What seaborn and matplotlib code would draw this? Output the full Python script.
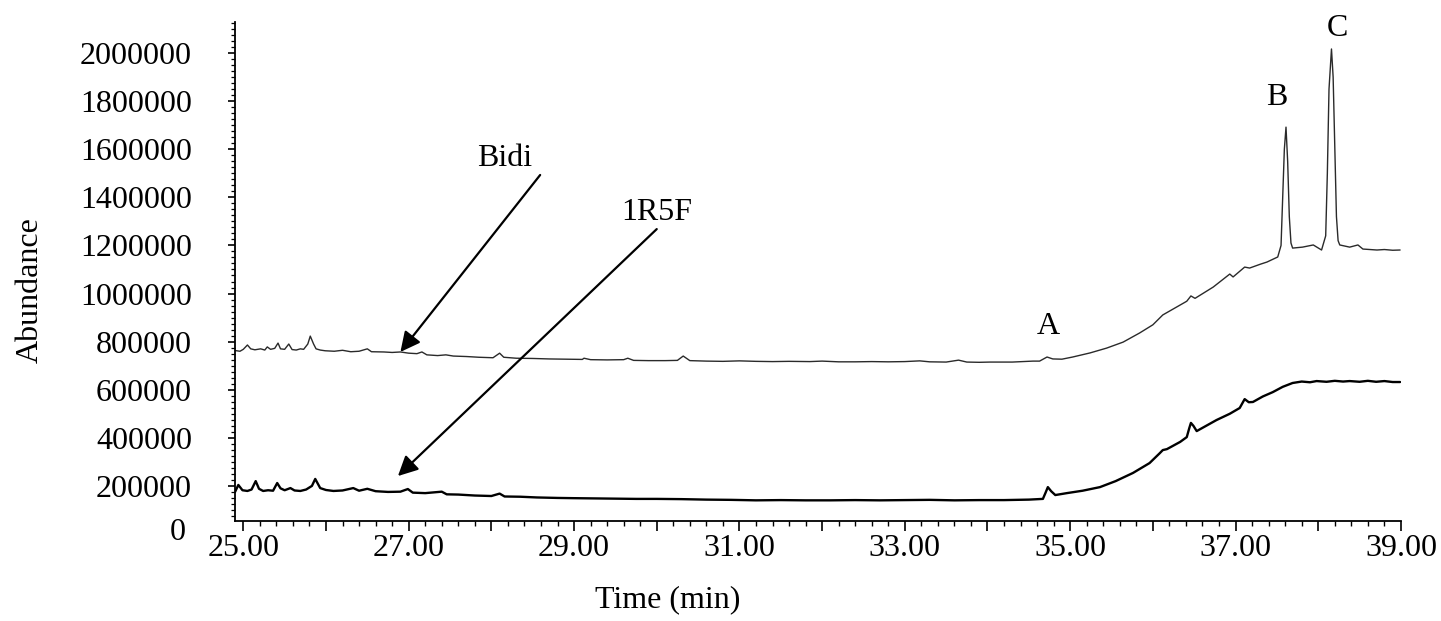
import matplotlib
matplotlib.use("Agg")
import matplotlib.pyplot as plt
from matplotlib.ticker import MultipleLocator, FixedLocator, FuncFormatter
import numpy as np
import pandas as pd
import seaborn as sns

# ---- chromatogram data (retention time in min, abundance in thousands of counts) ----
bidi_time = [
    24.90, 24.96, 25.00, 25.05, 25.09, 25.14, 25.21, 25.26, 25.29, 25.33,
    25.38, 25.42, 25.45, 25.50, 25.55, 25.59, 25.64, 25.69, 25.73, 25.78,
    25.81, 25.85, 25.88, 25.93, 25.99, 26.10, 26.20, 26.30, 26.40, 26.50,
    26.55, 26.70, 26.80, 26.90, 27.00, 27.10, 27.16, 27.22, 27.35, 27.45,
    27.54, 27.70, 27.85, 28.02, 28.10, 28.15, 28.30, 28.50, 28.70, 28.90,
    29.10, 29.12, 29.20, 29.40, 29.60, 29.65, 29.72, 29.90, 30.10, 30.25,
    30.32, 30.40, 30.60, 30.80, 31.00, 31.20, 31.40, 31.60, 31.85, 32.00,
    32.20, 32.40, 32.60, 32.80, 33.00, 33.18, 33.30, 33.50, 33.65, 33.75,
    33.90, 34.03, 34.30, 34.55, 34.63, 34.72, 34.79, 34.90, 35.03, 35.24,
    35.44, 35.64, 35.84, 36.00, 36.12, 36.33, 36.41, 36.46, 36.51, 36.73,
    36.93, 36.97, 37.11, 37.17, 37.30, 37.38, 37.51, 37.55, 37.57, 37.59,
    37.61, 37.63, 37.65, 37.67, 37.69, 37.81, 37.94, 38.04, 38.09, 38.11,
    38.13, 38.16, 38.18, 38.20, 38.22, 38.24, 38.26, 38.38, 38.48, 38.54,
    38.62, 38.71, 38.80, 38.90, 38.99,
]
bidi_abund = [
    763, 760, 768, 786, 770, 766, 770, 765, 778, 768,
    772, 794, 770, 768, 790, 767, 765, 770, 768, 790,
    823, 790, 770, 765, 762, 760, 764, 758, 760, 770,
    758, 757, 755, 757, 752, 750, 757, 745, 742, 745,
    740, 738, 735, 733, 752, 735, 731, 730, 728, 727,
    726, 731, 725, 724, 725, 731, 722, 721, 721, 722,
    740, 721, 719, 718, 720, 718, 717, 718, 717, 719,
    716, 716, 717, 716, 717, 720, 716, 715, 723, 715,
    714, 715, 715, 719, 719, 736, 728, 727, 736, 753,
    773, 798, 836, 870, 911, 952, 968, 990, 980, 1027,
    1081, 1069, 1110, 1106, 1122, 1131, 1152, 1200, 1400, 1600,
    1692, 1550, 1320, 1210, 1189, 1193, 1202, 1181, 1240, 1500,
    1850, 2017, 1900, 1600, 1320, 1220, 1202, 1193, 1202, 1185,
    1183, 1181, 1183, 1180, 1181,
]

r5f_time = [
    24.90, 24.94, 24.99, 25.05, 25.10, 25.15, 25.19, 25.24, 25.30, 25.36,
    25.41, 25.45, 25.50, 25.57, 25.62, 25.69, 25.76, 25.83, 25.87, 25.93,
    26.00, 26.09, 26.20, 26.33, 26.40, 26.50, 26.60, 26.75, 26.90, 26.99,
    27.05, 27.20, 27.40, 27.46, 27.60, 27.80, 28.00, 28.10, 28.16, 28.35,
    28.55, 28.80, 29.00, 29.25, 29.50, 29.75, 30.00, 30.30, 30.60, 30.90,
    31.20, 31.50, 31.80, 32.10, 32.40, 32.70, 33.00, 33.30, 33.60, 33.90,
    34.20, 34.50, 34.67, 34.70, 34.73, 34.77, 34.82, 34.96, 35.15, 35.36,
    35.55, 35.76, 35.96, 36.08, 36.12, 36.17, 36.33, 36.41, 36.44, 36.46,
    36.49, 36.53, 36.77, 36.93, 37.05, 37.11, 37.16, 37.21, 37.33, 37.45,
    37.57, 37.69, 37.80, 37.90, 37.98, 38.10, 38.20, 38.30, 38.38, 38.50,
    38.60, 38.70, 38.80, 38.90, 38.99,
]
r5f_abund = [
    175, 204, 182, 179, 185, 220, 188, 179, 182, 180,
    212, 190, 182, 191, 181, 179, 185, 200, 229, 191,
    183, 179, 181, 191, 180, 188, 178, 175, 176, 187,
    172, 170, 176, 165, 164, 160, 158, 168, 156, 155,
    152, 150, 149, 148, 147, 146, 146, 145, 143, 142,
    140, 141, 140, 140, 141, 140, 141, 142, 140, 141,
    141, 143, 146, 170, 195, 178, 162, 170, 180, 195,
    220, 254, 295, 335, 349, 353, 383, 403, 440, 462,
    450, 428, 474, 500, 524, 561, 548, 549, 572, 590,
    612, 628, 634, 631, 636, 633, 637, 634, 636, 633,
    637, 633, 636, 632, 632,
]

y_tick_values = [200000, 400000, 600000, 800000, 1000000,
                 1200000, 1400000, 1600000, 1800000, 2000000]
x_label_minutes = [25, 27, 29, 31, 33, 35, 37, 39]

bidi = pd.DataFrame({"time": bidi_time, "abundance": np.array(bidi_abund) * 1000})
r5f = pd.DataFrame({"time": r5f_time, "abundance": np.array(r5f_abund) * 1000})

sns.set_style("ticks")
plt.rcParams["font.family"] = ["Liberation Serif", "DejaVu Serif"]
plt.rcParams["axes.linewidth"] = 1.3
plt.rcParams["text.color"] = "black"
plt.rcParams["axes.edgecolor"] = "black"

fig = plt.figure(figsize=(14.41, 6.21), dpi=100)
ax = fig.add_axes([0.1631, 0.1610, 0.8091, 0.8035])

sns.lineplot(data=bidi, x="time", y="abundance", ax=ax, color="#2a2a2a",
             linewidth=1.0, estimator=None)
sns.lineplot(data=r5f, x="time", y="abundance", ax=ax, color="black",
             linewidth=1.7, estimator=None)

ax.set_xlim(24.9, 39.0)
ax.set_ylim(54000, 2129000)
sns.despine(ax=ax)
ax.set_xlabel("")
ax.set_ylabel("")

# x axis: labelled ticks every 2 min, plain ticks every minute, fine ticks every 0.2 min
ax.xaxis.set_major_locator(MultipleLocator(1))
ax.xaxis.set_minor_locator(MultipleLocator(0.2))
ax.xaxis.set_major_formatter(FuncFormatter(
    lambda v, _: f"{v:.2f}" if int(round(v)) in x_label_minutes else ""))
ax.tick_params(axis="x", which="major", length=7, width=1.2, pad=2,
               labelsize=23, colors="black")
ax.tick_params(axis="x", which="minor", length=3.5, width=1.0, colors="black")

# y axis
ax.yaxis.set_major_locator(FixedLocator(y_tick_values))
ax.yaxis.set_minor_locator(MultipleLocator(25000))
ax.yaxis.set_major_formatter(FuncFormatter(lambda v, _: f"{int(v)}"))
ax.tick_params(axis="y", which="major", length=5, width=1.2, pad=26,
               labelsize=23, colors="black")
ax.tick_params(axis="y", which="minor", length=3, width=0.9, colors="black")

fig.text(178 / 1441, 1 - 532 / 621, "0", fontsize=23, ha="center", va="center")
fig.text(30 / 1441, 1 - 290 / 621, "Abundance", fontsize=23, rotation=90,
         ha="center", va="center")
fig.text(668 / 1441, 1 - 600 / 621, "Time (min)", fontsize=23,
         ha="center", va="center")

# sample labels with arrows pointing at each trace
arrow_style = dict(arrowstyle="-|>,head_length=0.6,head_width=0.3",
                   color="black", lw=1.6, mutation_scale=20,
                   shrinkA=0, shrinkB=0)
ax.text(28.16, 1563000, "Bidi", fontsize=23, ha="center", va="center")
ax.annotate("", xy=(26.90, 757000), xytext=(28.59, 1493000),
            arrowprops=arrow_style)
ax.text(30.0, 1339000, "1R5F", fontsize=23, ha="center", va="center")
ax.annotate("", xy=(26.87, 241000), xytext=(30.00, 1268000),
            arrowprops=arrow_style)

# peak letters
ax.text(34.73, 861000, "A", fontsize=23, ha="center", va="center")
ax.text(37.50, 1817000, "B", fontsize=23, ha="center", va="center")
ax.text(38.23, 2104000, "C", fontsize=23, ha="center", va="center",
        clip_on=False)

fig.savefig("out.png", dpi=100)
